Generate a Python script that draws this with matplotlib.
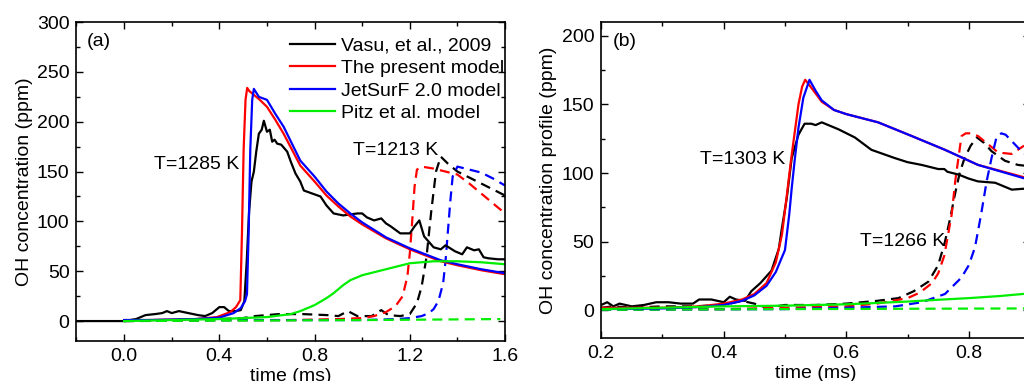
import numpy as np
import matplotlib
matplotlib.use("Agg")
import matplotlib.pyplot as plt
from matplotlib.ticker import MultipleLocator

plt.rcParams['font.family'] = ['Liberation Sans', 'DejaVu Sans']
plt.rcParams['font.size'] = 14

# ---- panel (a): T=1285 K (solid), T=1213 K (dashed) ----
a_exp_x = [-0.2, 0.0, 0.05, 0.09, 0.13, 0.16, 0.18, 0.2, 0.23, 0.27, 0.31, 0.34, 0.37, 0.4,
           0.42, 0.44, 0.47, 0.49, 0.505, 0.515, 0.525, 0.535, 0.545, 0.555, 0.566, 0.578,
           0.587, 0.6, 0.612, 0.622, 0.632, 0.643, 0.66, 0.685, 0.7, 0.72, 0.74, 0.755, 0.79,
           0.825, 0.85, 0.88, 0.92, 0.98, 1.0, 1.02, 1.05, 1.08, 1.1, 1.12, 1.16, 1.2, 1.22,
           1.24, 1.26, 1.3, 1.33, 1.35, 1.39, 1.42, 1.44, 1.47, 1.49, 1.51, 1.53, 1.57, 1.6]
a_exp_y = [0, 0, 2, 6, 7, 8, 10, 8, 10, 8, 6, 5, 8, 14,
           14, 10, 10, 11, 20, 60, 110, 140, 150, 170, 188, 192,
           201, 190, 192, 180, 182, 178, 177, 170, 160, 148, 140, 131, 128,
           125, 116, 108, 106, 108, 108, 104, 101, 103, 98, 95, 88, 88, 95,
           101, 85, 74, 72, 76, 70, 67, 74, 71, 72, 64, 63, 62, 62]

a_pres_x = [0.0, 0.1, 0.2, 0.3, 0.39, 0.446, 0.47, 0.488, 0.495, 0.502, 0.51, 0.517, 0.525,
            0.545, 0.57, 0.6, 0.635, 0.67, 0.74, 0.8, 0.85, 0.9, 0.95, 1.0, 1.1, 1.2, 1.33,
            1.4, 1.5, 1.6]
a_pres_y = [1, 1, 1.5, 2, 4, 9, 14, 21, 88, 172, 222, 234, 231,
            227, 222, 215, 202, 188, 156, 140, 126, 115, 105, 97, 83, 72, 60,
            56, 51, 47]

a_jet_x = [0.0, 0.1, 0.2, 0.3, 0.4, 0.46, 0.49, 0.508, 0.516, 0.523, 0.53, 0.538, 0.545,
           0.566, 0.6, 0.635, 0.67, 0.74, 0.8, 0.85, 0.9, 0.95, 1.0, 1.1, 1.2, 1.33,
           1.4, 1.5, 1.6]
a_jet_y = [1, 1, 1.5, 2, 3.5, 8, 13, 20, 27, 88, 172, 222, 233,
           225, 222, 208, 195, 161, 145, 130, 118, 108, 99, 84, 73, 61,
           57, 52, 48]

a_pitz_x = [0.0, 0.2, 0.4, 0.5, 0.6, 0.7, 0.74, 0.8, 0.85, 0.88, 0.92, 0.95, 1.0, 1.1,
            1.2, 1.3, 1.4, 1.5, 1.6]
a_pitz_y = [0, 1, 2, 3, 4, 7, 10, 16, 23, 28, 36, 41, 46, 52,
            58, 60, 60, 59, 57]

a_exp2_x = [0.0, 0.2, 0.4, 0.5, 0.55, 0.65, 0.75, 0.85, 0.9, 0.94, 0.98, 1.04, 1.08, 1.11,
            1.16, 1.2, 1.23, 1.25, 1.27, 1.29, 1.31, 1.33, 1.36, 1.4, 1.5, 1.6]
a_exp2_y = [1, 1, 2, 3, 5, 7, 7, 6, 5, 10, 5, 5, 11, 6,
            5, 7, 18, 35, 64, 110, 150, 165, 158, 150, 138, 126]

a_pres2_x = [0.0, 0.4, 0.7, 0.9, 1.0, 1.05, 1.1, 1.14, 1.17, 1.19, 1.2, 1.21, 1.22, 1.23,
             1.25, 1.3, 1.35, 1.4, 1.45, 1.5, 1.55, 1.6]
a_pres2_y = [0, 1, 1, 2, 3, 5, 9, 15, 25, 45, 68, 100, 135, 152,
             155, 153, 150, 147, 138, 128, 118, 108]

a_jet2_x = [0.0, 0.5, 1.0, 1.15, 1.2, 1.25, 1.28, 1.3, 1.32, 1.34, 1.35, 1.36, 1.37, 1.38,
            1.4, 1.45, 1.5, 1.55, 1.6]
a_jet2_y = [0, 1, 1, 2, 3, 5, 8, 12, 20, 38, 60, 90, 120, 145,
            155, 152, 149, 143, 136]

a_pitz2_x = [0.0, 0.5, 1.0, 1.58]
a_pitz2_y = [0, 0.5, 1, 2]

# ---- panel (b): T=1303 K (solid), T=1266 K (dashed) ----
b_exp_x = [0.2, 0.21, 0.22, 0.23, 0.25, 0.27, 0.29, 0.31, 0.33, 0.35, 0.36, 0.38, 0.4, 0.41,
           0.42, 0.435, 0.445, 0.46, 0.478, 0.49, 0.495, 0.503, 0.511, 0.522, 0.532, 0.543,
           0.55, 0.56, 0.587, 0.614, 0.641, 0.66, 0.679, 0.7, 0.723, 0.75, 0.76, 0.765,
           0.783, 0.8, 0.815, 0.843, 0.87, 0.9]
b_exp_y = [4, 6, 3, 5, 3, 4, 6, 6, 5, 5, 8, 8, 6, 10,
           8, 7, 14, 20, 29, 45, 60, 82, 111, 128, 136, 136,
           135, 137, 132, 126, 117, 114, 111, 108, 106, 103, 103, 101,
           99, 96, 94, 93, 88, 89]

b_pres_x = [0.2, 0.3, 0.36, 0.4, 0.43, 0.45, 0.47, 0.485, 0.495, 0.502, 0.51, 0.516, 0.522,
            0.528, 0.533, 0.54, 0.55, 0.56, 0.58, 0.6, 0.652, 0.707, 0.761, 0.815, 0.89]
b_pres_y = [2, 2, 3, 5, 8, 12, 20, 35, 55, 80, 110, 130, 150,
            163, 168, 164, 158, 152, 146, 143, 137, 127, 117, 106, 97]

b_jet_x = [0.2, 0.3, 0.36, 0.4, 0.43, 0.45, 0.47, 0.485, 0.5, 0.507, 0.511, 0.516, 0.522,
           0.53, 0.54, 0.55, 0.56, 0.58, 0.6, 0.652, 0.707, 0.761, 0.815, 0.9]
b_jet_y = [1, 1.5, 2.5, 4, 7, 11, 18, 28, 44, 70, 89, 110, 133,
           155, 168, 160, 153, 146, 143, 137, 127, 117, 106, 95]

b_pitz_x = [0.2, 0.3, 0.4, 0.5, 0.6, 0.65, 0.7, 0.75, 0.8, 0.85, 0.9]
b_pitz_y = [1, 2, 3, 3.5, 4.5, 5.5, 6.5, 7.8, 9, 10.5, 12.5]

b_exp2_x = [0.2, 0.22, 0.25, 0.3, 0.35, 0.4, 0.43, 0.45, 0.47, 0.5, 0.55, 0.6, 0.65, 0.685,
            0.71, 0.734, 0.75, 0.761, 0.77, 0.777, 0.785, 0.793, 0.803, 0.813, 0.825, 0.837,
            0.859, 0.88, 0.9]
b_exp2_y = [2, 3, 2, 3, 3, 4, 7, 5, 2, 4, 4, 5, 7, 9,
            14, 21, 33, 50, 68, 84, 100, 111, 120, 126, 122, 116,
            109, 106, 105]

b_pres2_x = [0.2, 0.4, 0.5, 0.6, 0.65, 0.7, 0.72, 0.74, 0.75, 0.76, 0.766, 0.772, 0.778,
             0.783, 0.788, 0.795, 0.804, 0.815, 0.826, 0.848, 0.87, 0.89]
b_pres2_y = [1, 1, 2, 3, 5, 9, 13, 20, 27, 40, 55, 70, 95,
             111, 127, 129, 129, 127, 123, 115, 114, 120]

b_jet2_x = [0.2, 0.5, 0.6, 0.68, 0.723, 0.761, 0.788, 0.8, 0.81, 0.82, 0.829, 0.837, 0.845,
            0.853, 0.86, 0.875, 0.89]
b_jet2_y = [0.5, 1, 2, 3, 6, 12, 24, 33, 46, 70, 94, 111, 126,
            129, 128, 121, 114]

b_pitz2_x = [0.2, 0.5, 0.9]
b_pitz2_y = [0.5, 1, 1.5]

labels = ["Vasu, et al., 2009", "The present model", "JetSurF 2.0 model", "Pitz et al. model"]
colors = ["black", "#ff0000", "#0000ff", "#00ee00"]

fig = plt.figure(figsize=(10.24, 3.81), dpi=100)
ax1 = fig.add_axes([0.0747, 0.105, 0.4185, 0.837])
ax2 = fig.add_axes([0.587, 0.113, 0.419, 0.829])

dash = (0, (4.5, 2.8))
lw = 1.6

panel_a = [(a_exp_x, a_exp_y), (a_pres_x, a_pres_y), (a_jet_x, a_jet_y), (a_pitz_x, a_pitz_y)]
panel_a2 = [(a_exp2_x, a_exp2_y), (a_pres2_x, a_pres2_y), (a_jet2_x, a_jet2_y), (a_pitz2_x, a_pitz2_y)]
panel_b = [(b_exp_x, b_exp_y), (b_pres_x, b_pres_y), (b_jet_x, b_jet_y), (b_pitz_x, b_pitz_y)]
panel_b2 = [(b_exp2_x, b_exp2_y), (b_pres2_x, b_pres2_y), (b_jet2_x, b_jet2_y), (b_pitz2_x, b_pitz2_y)]

for (x, y), c in zip(panel_a2, colors):
    ax1.plot(x, y, color=c, lw=lw, ls=dash)
for (x, y), c, lab in zip(panel_a, colors, labels):
    ax1.plot(x, y, color=c, lw=lw, label=lab)

for (x, y), c in zip(panel_b2, colors):
    ax2.plot(x, y, color=c, lw=lw, ls=dash)
for (x, y), c in zip(panel_b, colors):
    ax2.plot(x, y, color=c, lw=lw)

ax1.set_xlim(-0.2, 1.6)
ax1.set_ylim(-20, 300)
ax1.xaxis.set_major_locator(MultipleLocator(0.4))
ax1.xaxis.set_minor_locator(MultipleLocator(0.2))
ax1.yaxis.set_major_locator(MultipleLocator(50))
ax1.yaxis.set_minor_locator(MultipleLocator(25))
ax1.xaxis.set_major_formatter(plt.FormatStrFormatter('%.1f'))

ax2.set_xlim(0.2, 0.9)
ax2.set_ylim(-20, 210)
ax2.xaxis.set_major_locator(MultipleLocator(0.2))
ax2.xaxis.set_minor_locator(MultipleLocator(0.1))
ax2.yaxis.set_major_locator(MultipleLocator(50))
ax2.yaxis.set_minor_locator(MultipleLocator(25))
ax2.xaxis.set_major_formatter(plt.FormatStrFormatter('%.1f'))

for ax in (ax1, ax2):
    ax.tick_params(which='both', direction='in', top=True, right=True, width=1.0)
    ax.tick_params(which='major', length=5, labelsize=14, pad=5)
    ax.tick_params(which='minor', length=3)
    for s in ax.spines.values():
        s.set_linewidth(1.2)
    ax.set_xlabel("time (ms)", fontsize=14, labelpad=2)

ax1.set_ylabel("OH concentration (ppm)", fontsize=14, labelpad=3)
ax2.set_ylabel("OH concentration profile (ppm)", fontsize=14, labelpad=3)

ax1.text(0.025, 0.94, "(a)", transform=ax1.transAxes, fontsize=14, va='center')
ax2.text(0.028, 0.94, "(b)", transform=ax2.transAxes, fontsize=14, va='center')

ax1.text(0.127, 157, "T=1285 K", fontsize=14, va='center')
ax1.text(0.96, 171, "T=1213 K", fontsize=14, va='center')
ax2.text(0.361, 110, "T=1303 K", fontsize=14, va='center')
ax2.text(0.622, 50.5, "T=1266 K", fontsize=14, va='center')

ax1.legend(loc='upper right', bbox_to_anchor=(1.025, 0.99), frameon=False, fontsize=14,
           handlelength=2.3, handletextpad=0.3, labelspacing=0.25, borderaxespad=0.2)

fig.savefig("out.png", dpi=100)
